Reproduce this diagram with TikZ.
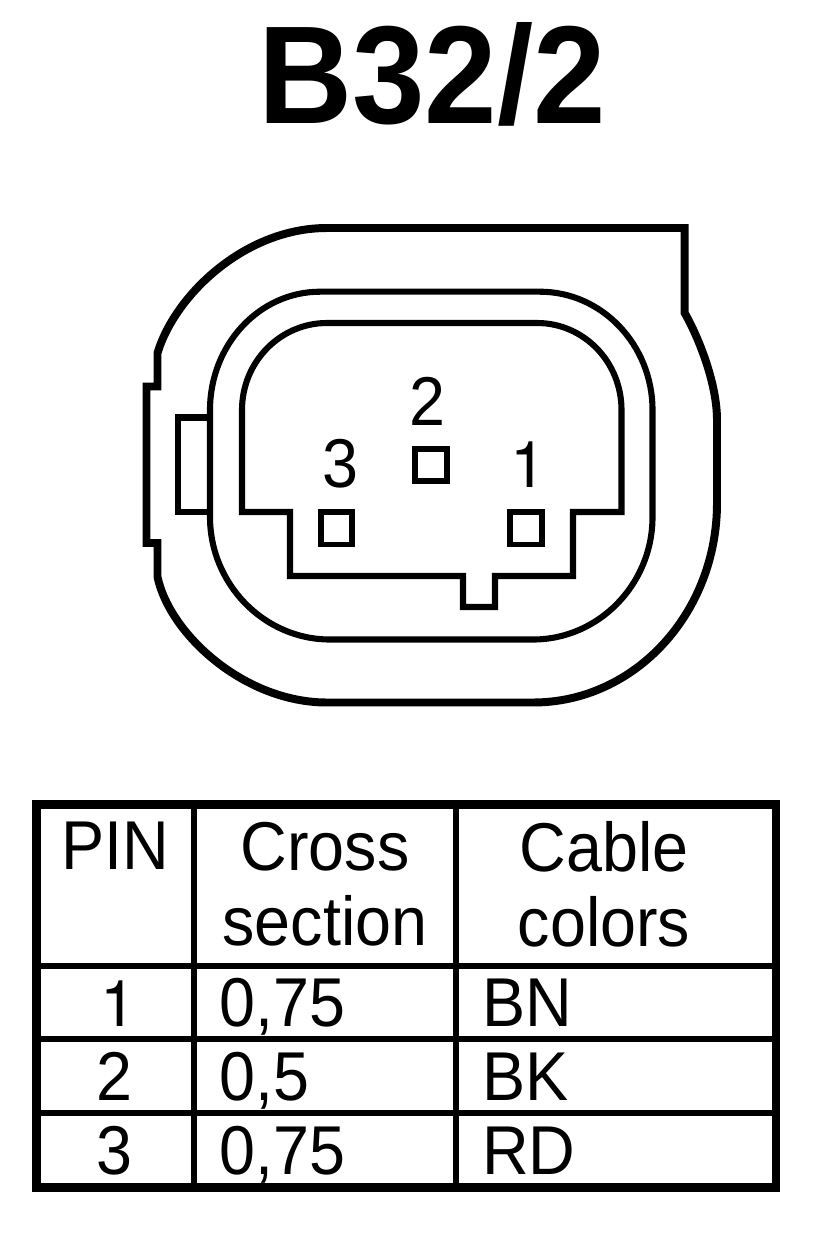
\documentclass[tikz,border=0pt]{standalone}
\usepackage{fontspec}
\setmainfont[FakeStretch=0.935]{Liberation Sans}
\newfontfamily\footlessfont{TeX Gyre Heros}
\usetikzlibrary{positioning}
\begin{document}
\begin{tikzpicture}[
        x=0.03cm, y=-0.03cm,
        outline/.style={draw=black, line width=6.8pt, line join=miter},
        contour/.style={draw=black, line width=5.2pt, line join=miter},
        pinbox/.style={draw=black, line width=5pt},
        rule/.style={draw=black, line width=5pt},
        pinlabel/.style={font=\fontsize{59}{59}\selectfont, inner sep=0pt, anchor=base},
        celltext/.style={font=\fontsize{59}{63.7}\selectfont, inner sep=0pt, align=center},
        rowtext/.style={font=\fontsize{59}{59}\selectfont, inner sep=0pt, anchor=base west},
        rowpin/.style={font=\fontsize{59}{59}\selectfont, inner sep=0pt, anchor=base}
    ]
        \useasboundingbox (0,0) rectangle (816,1238);
        % Title
        \node[inner sep=0pt, anchor=base, font=\fontsize{119}{119}\bfseries\selectfont] (title) at (432,124) {B32/2};

        % Housing
        \draw[outline] (684.7,228) -- (684.7,313) .. controls (700,340) and (717,385) .. (717,420)
            -- (717,503) .. controls (717,613) and (635,702.5) .. (533,702.5)
            -- (327,702.5) .. controls (245,702.5) and (170,635) .. (157.5,577)
            -- (157.5,543) -- (146.5,543) -- (146.5,386.5) -- (157.5,386.5) -- (157.5,353)
            .. controls (175,295) and (245,228) .. (327,228) -- cycle;
        \draw[contour] (320,291.7) -- (540,291.7) .. controls (602,291.7) and (652.5,345) .. (652.5,410)
            -- (652.5,517) .. controls (652.5,584) and (599,639.5) .. (533,639.5)
            -- (330,639.5) .. controls (264,639.5) and (210,584) .. (210,517)
            -- (210,410) .. controls (210,345) and (259,291.7) .. (320,291.7) -- cycle;
        \draw[contour] (242,512) -- (242,410) .. controls (242,362) and (280,323) .. (327,323)
            -- (537,323) .. controls (584,323) and (621.5,362) .. (621.5,410)
            -- (621.5,512) -- (573,512) -- (573,576) -- (495,576) -- (495,607) -- (463,607)
            -- (463,576) -- (290,576) -- (290,512) -- cycle;
        \draw[contour] (210,417.5) -- (178,417.5) -- (178,512) -- (210,512);

        % Pins
        \draw[pinbox] (321,512) rectangle (352,544.5);
        \draw[pinbox] (510,512) rectangle (542,544.5);
        \draw[pinbox] (415,449) rectangle (447,481);
        \node[pinlabel] (pin3) at (340,487) {3};
        \node[pinlabel] (pin2) at (427,425) {2};
        \node[pinlabel, font=\fontsize{55}{55}\selectfont] (pin1) at (528,487) {\footlessfont 1};

        % Table
        \draw[rule, line width=7.3pt] (36.3,804.3) rectangle (776,1187.5);
        \draw[rule] (194,804.3) -- (194,1187.5);
        \draw[rule] (456,804.3) -- (456,1187.5);
        \draw[rule] (36.3,965.7) -- (776,965.7);
        \draw[rule] (36.3,1039.3) -- (776,1039.3);
        \draw[rule] (36.3,1113.3) -- (776,1113.3);

        \node[rowpin] (headpin) at (115,869) {PIN};
        \node[celltext] (headcross) at (325,884) {Cross\\section};
        \node[celltext] (headcable) at (604,884) {Cable\\colors};

        \node[rowpin, font=\fontsize{55}{55}\selectfont] (row1pin) at (118,1026.7) {\footlessfont 1};
        \node[rowtext] (row1cross) at (219,1026.7) {0,75};
        \node[rowtext] (row1color) at (482,1026.7) {BN};
        \node[rowpin] (row2pin) at (114,1100.7) {2};
        \node[rowtext] (row2cross) at (219,1100.7) {0,5};
        \node[rowtext] (row2color) at (482,1100.7) {BK};
        \node[rowpin] (row3pin) at (114,1174) {3};
        \node[rowtext] (row3cross) at (219,1174) {0,75};
        \node[rowtext] (row3color) at (482,1174) {RD};
    \end{tikzpicture}
\end{document}
